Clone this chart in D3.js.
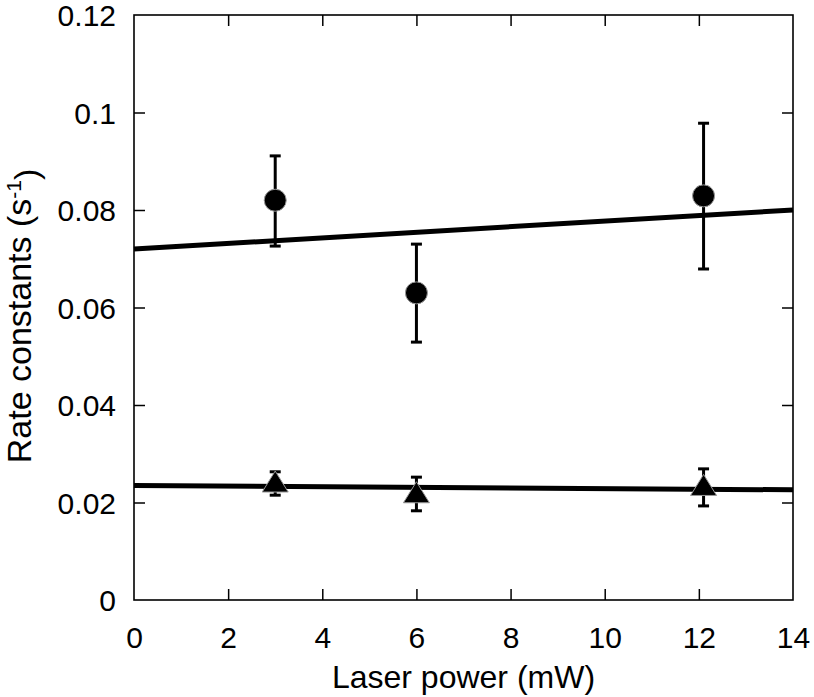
<!DOCTYPE html>
<html>
<head>
<meta charset="utf-8">
<script src="https://cdn.jsdelivr.net/npm/d3@7"></script>
<style>
  html, body { margin: 0; padding: 0; background: #fff; }
  text { font-family: "Liberation Sans", Arial, Helvetica, sans-serif; fill: #000; }
</style>
</head>
<body>
<svg id="chart" width="814" height="697"></svg>
<script>
// ---- data ----
const xTicks = [0, 2, 4, 6, 8, 10, 12, 14];
const yTicks = [0, 0.02, 0.04, 0.06, 0.08, 0.1, 0.12];
const yTickLabels = ["0", "0.02", "0.04", "0.06", "0.08", "0.1", "0.12"];

const circleX = [3, 6, 12.1];
const circleY = [0.082, 0.063, 0.0829];
const circleErrHi = [0.0911, 0.073, 0.0978];
const circleErrLo = [0.0726, 0.0529, 0.0679];

const triX = [3, 6, 12.1];
const triY = [0.0242, 0.022, 0.0235];
const triErrHi = [0.0263, 0.0252, 0.0269];
const triErrLo = [0.0215, 0.0183, 0.0193];

const fitCircleX = [0, 14];
const fitCircleY = [0.072, 0.080];
const fitTriX = [0, 14];
const fitTriY = [0.0235, 0.0226];

const xTitle = "Laser power (mW)";

// ---- layout ----
const svg = d3.select("#chart");
const mLeft = 134, mRight = 793, mTop = 15, mBottom = 600;
const x = d3.scaleLinear().domain([0, 14]).range([mLeft, mRight]);
const y = d3.scaleLinear().domain([0, 0.12]).range([mBottom, mTop]);

const tickLen = 11;
const fs = 30;

// frame
svg.append("rect").attr("x", mLeft).attr("y", mTop)
  .attr("width", mRight - mLeft).attr("height", mBottom - mTop)
  .attr("fill", "none").attr("stroke", "#000").attr("stroke-width", 1.6);

// axes with inward ticks
const xAxisB = d3.axisBottom(x).tickValues(xTicks).tickSizeInner(-tickLen).tickSizeOuter(0).tickPadding(27);
const gxb = svg.append("g").attr("transform", `translate(0,${mBottom})`).call(xAxisB);
const xAxisT = d3.axisTop(x).tickValues(xTicks).tickSizeInner(-tickLen).tickSizeOuter(0).tickFormat("");
const gxt = svg.append("g").attr("transform", `translate(0,${mTop})`).call(xAxisT);
const yAxisL = d3.axisLeft(y).tickValues(yTicks).tickSizeInner(-tickLen).tickSizeOuter(0)
  .tickPadding(18).tickFormat((d, i) => yTickLabels[i]);
const gyl = svg.append("g").attr("transform", `translate(${mLeft},0)`).call(yAxisL);
const yAxisR = d3.axisRight(y).tickValues(yTicks).tickSizeInner(-tickLen).tickSizeOuter(0).tickFormat("");
const gyr = svg.append("g").attr("transform", `translate(${mRight},0)`).call(yAxisR);

[gxb, gxt, gyl, gyr].forEach(g => {
  g.select(".domain").remove();
  g.selectAll(".tick line").attr("stroke", "#000").attr("stroke-width", 1.5);
  g.selectAll(".tick text").style("font-size", fs + "px").style("font-family", '"Liberation Sans", Arial, sans-serif').attr("fill", "#000");
});
[gxb, gxt].forEach(g => g.selectAll(".tick line").filter(d => d === 0 || d === 14).remove());
[gyl, gyr].forEach(g => g.selectAll(".tick line").filter(d => d === 0 || d === 0.12).remove());
gxb.selectAll(".tick text").attr("dy", "0.71em");
gyl.selectAll(".tick text").attr("dy", "0.36em");

// fit lines
const line = d3.line().x(d => x(d[0])).y(d => y(d[1]));
svg.append("path").datum(fitCircleX.map((v, i) => [v, fitCircleY[i]]))
  .attr("d", line).attr("stroke", "#000").attr("stroke-width", 5).attr("fill", "none");
svg.append("path").datum(fitTriX.map((v, i) => [v, fitTriY[i]]))
  .attr("d", line).attr("stroke", "#000").attr("stroke-width", 5).attr("fill", "none");

// error bars
function errBars(xs, hi, lo) {
  const g = svg.append("g").attr("stroke", "#000");
  xs.forEach((xv, i) => {
    g.append("line").attr("x1", x(xv)).attr("x2", x(xv)).attr("y1", y(hi[i])).attr("y2", y(lo[i])).attr("stroke-width", 3);
    [hi[i], lo[i]].forEach(v => {
      g.append("line").attr("x1", x(xv) - 5.5).attr("x2", x(xv) + 5.5).attr("y1", y(v)).attr("y2", y(v)).attr("stroke-width", 3);
    });
  });
}
errBars(circleX, circleErrHi, circleErrLo);
errBars(triX, triErrHi, triErrLo);

// circles
svg.append("g").selectAll("circle").data(circleX).join("circle")
  .attr("cx", d => x(d)).attr("cy", (d, i) => y(circleY[i])).attr("r", 11)
  .attr("fill", "#000").attr("stroke", "#999").attr("stroke-width", 1);

// triangles
svg.append("g").selectAll("path").data(triX).join("path")
  .attr("d", (d, i) => {
    const cx = x(d), cy = y(triY[i]);
    return `M${cx},${cy - 11} L${cx + 13},${cy + 10} L${cx - 13},${cy + 10} Z`;
  })
  .attr("fill", "#000").attr("stroke", "#999").attr("stroke-width", 1);

// axis titles
svg.append("text").attr("x", (mLeft + mRight) / 2).attr("y", 688)
  .attr("text-anchor", "middle").style("font-size", "32px").text(xTitle);

const yl = svg.append("text").attr("transform", `translate(31,316) rotate(-90)`)
  .attr("text-anchor", "middle").style("font-size", "34px");
yl.append("tspan").text("Rate constants (s");
yl.append("tspan").attr("dy", "-0.5em").style("font-size", "21px").text("-1");
yl.append("tspan").attr("dy", "0.5em").text(")");
</script>
</body>
</html>
